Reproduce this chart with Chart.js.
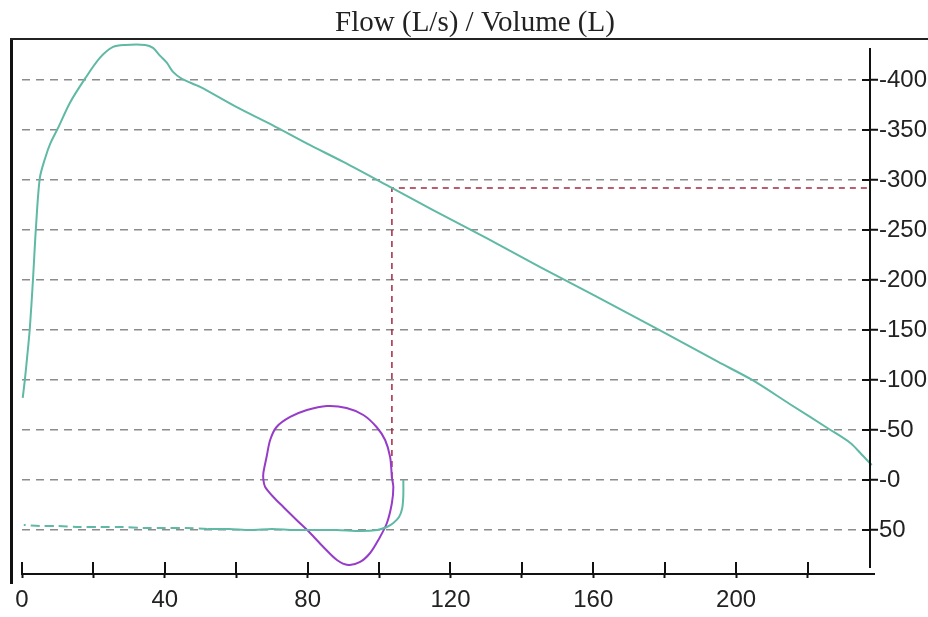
<!DOCTYPE html>
<html>
<head>
<meta charset="utf-8">
<script src="https://cdn.jsdelivr.net/npm/chart.js@4/dist/chart.umd.min.js"></script>
<style>
  html, body { margin: 0; padding: 0; background: #ffffff; }
  #c { display: block; }
</style>
</head>
<body>
<canvas id="c" width="928" height="617"></canvas>
<script>
// ---- data ----
const titleText = 'Flow (L/s) / Volume (L)';

// expiratory flow-volume curve (green)
const expVolume = [0.2, 0.8, 1.5, 2.2, 3.1, 3.9, 5.0, 6.5, 8.0, 10.1, 13.4, 17.6, 21.8, 25.5, 28.9, 34.5, 36.7, 38.7, 40.6, 42.3, 44.8, 49.9, 60, 70, 80, 90, 103.6, 115, 130, 145, 160, 180, 195, 204.5, 215, 226, 232, 235.3, 238, 239.5];
const expFlow   = [82, 100, 125, 152, 202, 252, 302, 322, 337, 352, 377, 401, 422, 433, 435, 435, 432, 424, 417, 408, 401, 393, 373, 355, 336, 318, 292, 270, 242, 213, 185, 147, 118, 100, 76, 51, 37, 25, 15, 10];

// inspiratory return (green, lower)
const retVolume = [106.8, 106.8, 106.5, 105.6, 104.0, 102.2, 99.5, 95, 88, 82, 76, 70, 64, 58, 52, 46, 40, 34, 28, 22, 16, 10, 5, 0.5];
const retFlow   = [0, -15, -28, -37, -43, -47, -50, -51, -50, -50, -50, -49, -50, -49, -49, -48, -48, -48, -47, -47, -47, -46, -46, -45];

// tidal loop (purple)
const loopVolume = [103.6, 103.1, 101.7, 99.3, 95.6, 90.9, 85.4, 79.8, 75.1, 71.3, 69.5, 68.5, 67.6, 67.6, 68.1, 70.4, 73.2, 76.9, 80.7, 84.4, 88.2, 91.4, 94.7, 97.5, 99.8, 102.2, 103.6, 104.0, 103.6];
const loopFlow   = [2, 23, 40, 53, 65, 72, 74, 70, 63, 53, 40, 23, 7, 0, -7, -17, -27, -40, -53, -67, -80, -85, -82, -73, -60, -43, -23, -7, 2];

// marker (red dashed)
const markVolume = [103.6, 103.6, 237.5];
const markFlow   = [2, 292, 292];

// axes
const xMin = 0, xMax = 237.5;
const yMin = -94, yMax = 441;
const xTickValues = [0, 20, 40, 60, 80, 100, 120, 140, 160, 180, 200, 220];
const xLabelValues = [0, 40, 80, 120, 160, 200];
const yTickValues = [400, 350, 300, 250, 200, 150, 100, 50, 0, -50];
const yTickLabels = ['-400', '-350', '-300', '-250', '-200', '-150', '-100', '-50', '-0', '50'];

const zip = (xs, ys) => xs.map((v, i) => ({ x: v, y: ys[i] }));

const framePlugin = {
  id: 'frame',
  afterDraw(chart) {
    const { ctx, chartArea: a, scales: { x, y } } = chart;
    ctx.save();
    ctx.strokeStyle = '#111';
    ctx.lineCap = 'butt';
    // left frame
    ctx.lineWidth = 3;
    ctx.beginPath(); ctx.moveTo(a.left - 10.5, a.top - 1); ctx.lineTo(a.left - 10.5, a.bottom + 10); ctx.stroke();
    // top frame
    ctx.lineWidth = 2;
    ctx.strokeStyle = '#222';
    ctx.beginPath(); ctx.moveTo(a.left - 12, a.top); ctx.lineTo(chart.width, a.top); ctx.stroke();
    // right axis line
    ctx.strokeStyle = '#111';
    ctx.beginPath(); ctx.moveTo(a.right, a.top + 9); ctx.lineTo(a.right, a.bottom - 6); ctx.stroke();
    // inner parts of y ticks
    y.ticks.forEach(t => {
      const py = Math.round(y.getPixelForValue(t.value));
      ctx.beginPath(); ctx.moveTo(a.right - 8, py); ctx.lineTo(a.right, py); ctx.stroke();
    });
    // inner parts of x ticks
    x.ticks.forEach(t => {
      const px = Math.round(x.getPixelForValue(t.value));
      ctx.beginPath(); ctx.moveTo(px, a.bottom - 12); ctx.lineTo(px, a.bottom); ctx.stroke();
    });
    // x axis extension past the right axis
    ctx.beginPath(); ctx.moveTo(a.right, a.bottom); ctx.lineTo(a.right + 5, a.bottom); ctx.stroke();
    ctx.restore();
  }
};

new Chart(document.getElementById('c'), {
  type: 'scatter',
  data: {
    datasets: [
      {
        label: 'return',
        data: zip(retVolume, retFlow),
        showLine: true,
        borderColor: 'rgb(95,185,165)',
        borderWidth: 2,
        pointRadius: 0,
        tension: 0.3,
        segment: { borderDash: ctx => ctx.p1.parsed.x < 50 ? [9, 5] : undefined }
      },
      {
        label: 'loop',
        data: zip(loopVolume, loopFlow),
        showLine: true,
        borderColor: 'rgb(150,60,200)',
        borderWidth: 2,
        pointRadius: 0,
        tension: 0.3
      },
      {
        label: 'expiration',
        data: zip(expVolume, expFlow),
        showLine: true,
        borderColor: 'rgb(95,185,165)',
        borderWidth: 2,
        pointRadius: 0,
        tension: 0.3,
        clip: false
      },
      {
        label: 'marker',
        data: zip(markVolume, markFlow),
        showLine: true,
        borderColor: 'rgb(165,40,65)',
        borderWidth: 1.5,
        borderDash: [6, 5],
        pointRadius: 0,
        tension: 0
      }
    ]
  },
  options: {
    responsive: false,
    animation: false,
    devicePixelRatio: 1,
    layout: { padding: { left: 22, right: 0, top: 0, bottom: 0 } },
    plugins: {
      legend: { display: false },
      tooltip: { enabled: false },
      title: {
        display: true,
        text: titleText,
        color: '#222',
        font: { family: '"Liberation Serif", "Times New Roman", serif', size: 29, weight: 'normal', lineHeight: 1.1 },
        padding: { top: 7, bottom: 0 }
      }
    },
    scales: {
      x: {
        type: 'linear',
        position: 'bottom',
        min: xMin,
        max: xMax,
        afterBuildTicks: s => { s.ticks = xTickValues.map(v => ({ value: v })); },
        afterFit: s => { s.height = 43; },
        grid: { drawOnChartArea: false, drawTicks: true, tickLength: 4, tickColor: '#111', tickWidth: 2 },
        border: { display: true, color: '#111', width: 2 },
        ticks: {
          autoSkip: false,
          maxRotation: 0,
          padding: 8,
          color: '#222',
          font: { family: '"Liberation Sans", Arial, sans-serif', size: 24 },
          callback: v => xLabelValues.includes(v) ? String(v) : ''
        }
      },
      y: {
        type: 'linear',
        position: 'right',
        min: yMin,
        max: yMax,
        afterBuildTicks: s => { s.ticks = yTickValues.map(v => ({ value: v })); },
        afterFit: s => { s.width = 58; },
        grid: {
          color: '#8c8c8c',
          lineWidth: 1.5,
          drawTicks: true,
          tickLength: 8,
          tickColor: '#111',
          tickWidth: 2,
          tickBorderDash: []
        },
        border: { display: false, dash: [8, 6] },
        ticks: {
          autoSkip: false,
          padding: 1,
          color: '#222',
          font: { family: '"Liberation Sans", Arial, sans-serif', size: 24 },
          callback: v => yTickLabels[yTickValues.indexOf(v)]
        }
      }
    }
  },
  plugins: [framePlugin]
});
</script>
</body>
</html>
